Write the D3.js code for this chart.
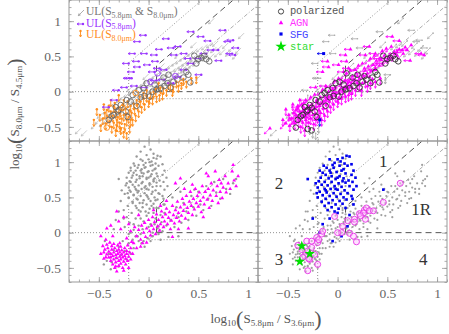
<!DOCTYPE html>
<html>
<head>
<meta charset="utf-8">
<script src="https://cdn.jsdelivr.net/npm/d3@7"></script>
<style>
  body { margin: 0; background: #fff; }
  svg { display: block; }
</style>
</head>
<body>
<svg id="chart" width="449" height="334"></svg>
<script>
// ---- data ----
// upper-limit sources: [x, y, class]  class: a = AGN, s = SFG, o = other
var ulBoth = [
  [-0.68,-0.52,'a'],[-0.62,-0.55,'o'],[-0.52,-0.45,'a'],[-0.48,-0.38,'a'],[-0.46,-0.30,'o'],[-0.44,-0.42,'a'],
  [-0.42,-0.33,'a'],[-0.40,-0.24,'a'],[-0.39,-0.38,'a'],[-0.37,-0.29,'o'],[-0.36,-0.18,'a'],[-0.35,-0.27,'a'],
  [-0.34,-0.34,'a'],[-0.33,-0.24,'a'],[-0.31,-0.13,'o'],[-0.30,-0.30,'a'],[-0.29,-0.20,'a'],[-0.28,-0.25,'a'],
  [-0.27,-0.08,'a'],[-0.26,-0.26,'a'],[-0.25,-0.16,'o'],[-0.23,-0.04,'a'],[-0.22,-0.22,'a'],[-0.21,-0.12,'a'],
  [-0.20,-0.15,'a'],[-0.19,-0.01,'o'],[-0.18,-0.18,'a'],[-0.17,-0.08,'a'],[-0.16,0.08,'o'],[-0.15,0.03,'a'],
  [-0.14,-0.14,'a'],[-0.13,-0.04,'o'],[-0.12,-0.08,'a'],[-0.11,0.07,'a'],[-0.10,-0.10,'a'],[-0.09,0.00,'a'],
  [-0.07,0.11,'o'],[-0.06,-0.06,'a'],[-0.05,0.04,'a'],[-0.04,0.00,'a'],[-0.03,0.15,'a'],[-0.02,-0.02,'a'],
  [-0.01,0.08,'o'],[0.00,0.25,'o'],[0.01,0.19,'a'],[0.02,0.02,'a'],[0.03,0.11,'a'],[0.04,0.06,'a'],
  [0.05,0.22,'o'],[0.06,0.05,'a'],[0.07,0.15,'a'],[0.09,0.26,'a'],[0.10,0.09,'a'],[0.11,0.19,'o'],
  [0.12,0.14,'a'],[0.13,0.30,'a'],[0.14,0.12,'a'],[0.15,0.22,'a'],[0.16,0.40,'o'],[0.17,0.33,'o'],
  [0.18,0.16,'a'],[0.19,0.26,'a'],[0.20,0.22,'a'],[0.21,0.37,'a'],[0.22,0.19,'a'],[0.23,0.29,'o'],
  [0.25,0.40,'a'],[0.26,0.23,'a'],[0.27,0.33,'a'],[0.28,0.30,'a'],[0.29,0.44,'o'],[0.30,0.26,'a'],
  [0.31,0.36,'a'],[0.32,0.55,'o'],[0.33,0.47,'a'],[0.34,0.30,'a'],[0.35,0.40,'o'],[0.36,0.38,'a'],
  [0.37,0.51,'a'],[0.38,0.34,'a'],[0.39,0.44,'a'],[0.41,0.54,'o'],[0.42,0.37,'a'],[0.43,0.47,'a'],
  [0.44,0.45,'a'],[0.45,0.58,'a'],[0.46,0.41,'o'],[0.47,0.51,'a'],[0.48,0.70,'o'],[0.49,0.61,'a'],
  [0.50,0.44,'a'],[0.52,0.54,'o'],[0.52,0.50,'a'],[0.53,0.24,'o'],[0.54,0.64,'a'],[0.55,0.48,'a'],
  [0.57,0.57,'a'],[0.59,0.67,'o'],[0.59,0.54,'o'],[0.60,0.51,'a'],[0.60,0.56,'a'],[0.62,0.60,'a'],
  [0.64,0.70,'o'],[0.66,0.54,'a'],[0.66,1.04,'o'],[0.68,0.63,'a'],[0.70,0.72,'o'],[0.72,0.57,'o'],
  [0.74,0.66,'a'],[0.77,0.60,'o'],[0.80,0.69,'o'],[0.83,0.58,'o'],[0.86,0.65,'o'],[0.90,0.54,'o'],
  [0.93,0.62,'o'],[0.96,0.83,'o']
];
var ul58 = [
  [-0.09,0.71,'o'],[0.20,0.75,'o'],[-0.14,0.54,'s'],[-0.10,0.43,'a'],[-0.02,0.54,'o'],[0.08,0.52,'a'],
  [0.28,0.52,'a'],[0.32,0.64,'a'],[0.38,0.54,'a'],[0.42,0.47,'a'],[-0.19,0.19,'o'],[-0.15,0.28,'a'],
  [-0.09,0.35,'a'],[0.01,0.38,'a'],[0.06,0.28,'a'],[0.11,0.33,'a'],[0.18,0.31,'a'],[0.09,0.43,'a'],
  [-0.30,0.02,'o'],[-0.22,0.06,'a'],[-0.12,0.08,'a'],[-0.02,0.06,'a'],[0.08,0.16,'a'],[0.16,0.17,'a'],
  [0.25,0.12,'a'],[0.32,0.21,'a'],[0.38,0.31,'a'],[0.45,0.40,'a'],[0.52,0.47,'a'],[0.58,0.54,'a'],
  [0.65,0.59,'a'],[0.70,0.59,'a'],[-0.32,-0.12,'a'],[0.82,0.71,'o'],[0.85,0.73,'o'],[0.84,0.54,'a'],
  [0.87,0.52,'a'],[0.77,0.87,'o'],[-0.03,0.80,'o'],[0.45,0.85,'o'],[0.55,0.78,'a'],[0.62,0.72,'a'],
  [0.25,0.62,'o'],[-0.40,-0.22,'a'],[-0.20,0.40,'o'],[0.13,0.60,'a'],[0.90,0.62,'o'],[0.73,0.44,'a'],
  [-0.17,0.19,'o'],[0.53,0.24,'o']
];
var ul80 = [
  [-0.49,-0.33,'a'],[-0.42,-0.26,'a'],[-0.35,-0.21,'a'],[-0.32,-0.40,'a'],[-0.29,-0.31,'a'],[-0.25,-0.12,'o'],
  [-0.22,-0.40,'a'],[-0.19,-0.26,'a'],[-0.15,-0.17,'a'],[-0.12,-0.12,'a'],[-0.09,-0.07,'a'],[-0.05,-0.02,'a'],
  [-0.02,0.02,'o'],[0.01,-0.09,'a'],[0.05,0.00,'a'],[0.11,-0.05,'a'],[0.15,0.05,'a'],[0.18,0.02,'a'],
  [0.22,0.09,'a'],[0.25,0.07,'o'],[0.28,0.14,'a'],[0.33,0.12,'a'],[0.38,0.14,'a'],[0.43,0.19,'a'],
  [-0.25,-0.57,'o'],[-0.22,-0.59,'o'],[-0.46,-0.38,'a'],[-0.44,-0.30,'a'],[-0.43,-0.45,'a'],[-0.41,-0.36,'a'],
  [-0.40,-0.20,'a'],[-0.39,-0.42,'a'],[-0.38,-0.28,'a'],[-0.37,-0.50,'a'],[-0.36,-0.34,'a'],[-0.35,-0.44,'a'],
  [-0.34,-0.16,'a'],[-0.33,-0.29,'a'],[-0.32,-0.48,'o'],[-0.31,-0.36,'a'],[-0.30,-0.22,'a'],[-0.29,-0.44,'a'],
  [-0.28,-0.27,'a'],[-0.27,-0.38,'a'],[-0.26,-0.18,'a'],[-0.25,-0.33,'a'],[-0.24,-0.46,'a'],[-0.23,-0.24,'a'],
  [-0.22,-0.31,'a'],[-0.21,-0.14,'a'],[-0.20,-0.36,'a'],[-0.19,-0.50,'o'],[-0.18,-0.20,'a'],[-0.17,-0.30,'a'],
  [-0.16,-0.40,'a'],[-0.14,-0.24,'a'],[-0.13,-0.34,'a'],[-0.11,-0.18,'a'],[-0.10,-0.28,'a'],[-0.08,-0.14,'a'],
  [-0.07,-0.22,'a'],[-0.05,-0.10,'a'],[-0.04,-0.18,'a'],[-0.02,-0.06,'a'],[0.00,-0.14,'a'],[0.02,-0.02,'a'],
  [0.04,-0.10,'a'],[0.07,0.04,'a'],[0.08,-0.07,'a'],[0.12,0.06,'a'],[0.14,-0.03,'a'],[0.20,0.12,'a'],
  [0.24,0.02,'a'],[0.30,0.08,'a'],[0.35,0.18,'a'],[-0.55,-0.40,'a'],[-0.52,-0.25,'a'],[-0.48,-0.48,'a'],
  [-0.45,-0.18,'a'],[-0.33,-0.55,'a'],[-0.28,-0.52,'o'],[-0.18,-0.40,'s'],[-0.38,-0.12,'a'],[-0.30,-0.05,'o'],
  [0.48,0.20,'o'],[0.10,0.12,'a']
];
// polarized upper-limit sources: [x, y, limit]  b = both, p = 5.8um, o = 8.0um
var polUL = [
  [-0.42,-0.51,'o'],[-0.30,-0.53,'o'],[-0.26,-0.55,'o'],[-0.37,-0.35,'b'],[-0.35,-0.33,'b'],[-0.30,-0.26,'b'],
  [-0.28,-0.19,'b'],[-0.26,-0.23,'o'],[-0.23,-0.28,'b'],[-0.21,-0.36,'b'],[-0.33,-0.22,'b'],[-0.31,-0.28,'b'],
  [-0.18,-0.14,'b'],[-0.12,-0.20,'b'],[-0.16,-0.05,'b'],[-0.13,-0.02,'o'],[-0.08,-0.08,'b'],[-0.04,-0.06,'b'],
  [0.01,-0.07,'b'],[0.04,0.00,'b'],[0.08,0.03,'b'],[0.02,0.14,'p'],[0.09,0.26,'p'],[0.06,0.10,'b'],
  [0.12,0.05,'b'],[0.16,0.08,'b'],[0.19,0.12,'b'],[0.22,0.06,'b'],[0.25,0.14,'b'],[0.29,0.17,'b'],
  [0.27,0.22,'p'],[0.33,0.12,'o'],[0.38,0.28,'b'],[0.40,0.24,'b'],[0.42,0.13,'b'],[0.35,0.20,'b'],
  [0.46,0.51,'b'],[0.50,0.46,'b'],[0.53,0.48,'b'],[0.56,0.51,'b'],[0.58,0.46,'b'],[0.61,0.43,'b'],
  [0.48,0.40,'b'],[-0.05,0.05,'b'],[-0.02,0.12,'b'],[-0.10,0.02,'b'],[0.15,0.20,'b'],[0.20,0.24,'b'],
  [-0.22,-0.12,'b'],[-0.40,-0.40,'b']
];
// detected sources
var agnDet = [
  [-0.46,-0.19],[-0.44,-0.24],[-0.45,-0.28],[-0.42,-0.17],[-0.42,-0.31],[-0.41,-0.22],[-0.40,-0.35],[-0.40,-0.27],
  [-0.39,-0.14],[-0.38,-0.30],[-0.38,-0.40],[-0.37,-0.24],[-0.37,-0.19],[-0.36,-0.33],[-0.36,-0.45],[-0.35,-0.28],
  [-0.35,-0.38],[-0.34,-0.22],[-0.34,-0.50],[-0.33,-0.32],[-0.33,-0.42],[-0.32,-0.26],[-0.32,-0.36],[-0.32,-0.55],
  [-0.31,-0.18],[-0.31,-0.30],[-0.30,-0.40],[-0.30,-0.47],[-0.30,-0.24],[-0.29,-0.34],[-0.29,-0.28],[-0.28,-0.38],
  [-0.28,-0.20],[-0.28,-0.44],[-0.27,-0.31],[-0.27,-0.25],[-0.26,-0.35],[-0.26,-0.50],[-0.25,-0.28],[-0.25,-0.41],
  [-0.24,-0.22],[-0.24,-0.33],[-0.23,-0.37],[-0.23,-0.45],[-0.22,-0.26],[-0.22,-0.30],[-0.21,-0.40],[-0.21,-0.18],
  [-0.20,-0.34],[-0.20,-0.50],[-0.19,-0.28],[-0.18,-0.22],[-0.18,-0.38],[-0.17,-0.13],[-0.16,-0.30],[-0.33,-0.48],
  [-0.38,-0.35],[-0.43,-0.35],[-0.48,-0.30],[-0.25,-0.54],[-0.35,-0.16],[-0.29,-0.15],[-0.45,-0.37],
  [-0.12,-0.05],[-0.10,0.04],[-0.08,-0.10],[-0.07,0.10],[-0.05,0.00],[-0.04,0.14],[-0.03,-0.06],[-0.02,0.06],
  [0.00,0.18],[0.01,0.02],[0.02,-0.04],[0.03,0.10],[0.04,0.22],[0.05,0.05],[0.06,0.15],[0.07,-0.02],
  [0.08,0.26],[0.09,0.09],[0.10,0.18],[0.11,0.03],[0.12,0.12],[0.13,0.30],[0.14,0.22],[0.15,0.08],
  [0.16,0.16],[0.17,0.26],[0.18,0.34],[0.19,0.12],[0.20,0.21],[0.21,0.29],[0.22,0.05],[0.23,0.17],
  [0.24,0.38],[0.25,0.25],[0.26,0.13],[0.27,0.32],[0.28,0.21],[0.29,0.44],[0.30,0.28],[0.31,0.16],
  [0.32,0.36],[0.32,0.77],[0.33,0.24],[0.34,0.48],[0.35,0.31],[0.36,0.40],[0.37,0.20],[0.38,0.52],
  [0.39,0.35],[0.40,0.28],[0.41,0.44],[0.42,0.58],[0.43,0.38],[0.44,0.25],[0.45,0.48],[0.46,0.33],
  [0.47,0.62],[0.48,0.42],[0.49,0.52],[0.50,0.37],[0.51,0.57],[0.52,0.45],[0.53,0.29],[0.54,0.66],
  [0.55,0.50],[0.56,0.40],[0.57,0.58],[0.58,0.84],[0.59,0.47],[0.60,0.62],[0.61,0.35],[0.62,0.53],
  [0.63,0.70],[0.64,0.45],[0.65,0.60],[0.67,0.87],[0.68,0.52],[0.69,0.66],[0.70,0.42],[0.71,0.75],
  [0.72,0.58],[0.73,0.70],[0.74,0.49],[0.75,0.64],[0.77,0.80],[0.78,0.57],[0.80,0.70],[0.82,0.62],
  [0.84,0.87],[0.85,0.96],[0.86,0.74],[0.88,0.66],[0.90,0.80],[0.27,0.70],[0.36,0.62],[0.44,0.68],
  [0.60,0.80],[0.18,0.45],[0.12,0.38],[0.05,0.32],[0.40,0.06],[0.30,0.05],[0.55,0.22],[0.24,-0.06],
  [-0.32,0.30],[-0.30,0.16],[-0.38,0.10],[-0.42,0.06],[-0.43,-0.10],[-0.36,-0.05],[-0.28,0.05],[-0.22,-0.08],
  [-0.15,-0.15],[-0.12,-0.22],[-0.08,-0.20],[-0.18,0.02],[-0.25,0.22],[-0.14,0.08],[-0.06,-0.15],[-0.02,-0.14],
  [-0.20,0.12],[-0.48,-0.05],[-0.10,0.25]
];
var sfgDet = [
  [0.09,1.09],[0.05,1.06],[0.00,1.04],[-0.08,1.04],[0.12,1.08],[-0.03,0.99],[0.07,0.98],[0.02,0.95],
  [-0.11,0.92],[-0.04,0.92],[0.10,0.95],[-0.08,0.88],[0.04,0.88],[-0.15,0.85],[-0.01,0.86],[0.08,0.84],
  [-0.12,0.82],[-0.06,0.80],[0.02,0.80],[0.14,0.82],[-0.17,0.78],[-0.09,0.77],[-0.02,0.76],[0.06,0.77],
  [0.11,0.74],[-0.19,0.73],[-0.13,0.72],[-0.06,0.72],[0.01,0.70],[0.08,0.71],[0.15,0.72],[-0.16,0.68],
  [-0.10,0.67],[-0.03,0.66],[0.04,0.65],[0.12,0.66],[-0.20,0.64],[-0.13,0.62],[-0.07,0.62],[0.00,0.61],
  [0.07,0.60],[0.16,0.61],[-0.18,0.58],[-0.11,0.57],[-0.04,0.56],[0.03,0.55],[0.10,0.56],[-0.15,0.53],
  [-0.08,0.52],[-0.01,0.51],[0.06,0.50],[0.14,0.52],[-0.20,0.50],[-0.12,0.48],[-0.05,0.46],[0.02,0.45],
  [0.09,0.47],[-0.16,0.44],[-0.09,0.42],[-0.02,0.40],[0.05,0.41],[0.16,0.40],[-0.13,0.38],[-0.06,0.36],
  [0.01,0.34],[-0.10,0.32],[0.08,0.35],[-0.03,0.30],[-0.21,0.56],[-0.22,0.70],[0.19,0.66],[0.18,0.78],
  [0.14,0.97],[0.16,0.88],[-0.14,0.95],[-0.18,0.88],[0.00,0.28],[-0.15,0.12],[-0.18,0.00],[-0.05,-0.12],
  [0.04,-0.05],[0.10,0.09],[0.46,0.61],[-0.30,0.76],[0.15,0.48],[-0.25,0.20],[-0.08,0.20],[0.12,0.25],
  [-0.02,0.62],[-0.07,0.85],[0.05,0.73],[-0.12,0.60],[0.00,0.78],[0.06,0.90],[-0.05,0.96],[0.03,1.01]
];
var othDet = [
  [-0.04,1.22],[0.02,1.18],[-0.08,1.15],[0.05,1.12],[-0.02,1.10],[-0.12,1.08],[0.08,1.05],[-0.06,1.02],
  [0.01,1.00],[-0.15,0.98],[-0.10,0.96],[0.04,0.96],[-0.03,0.93],[-0.18,0.92],[-0.07,0.90],[0.07,0.91],
  [-0.13,0.88],[0.00,0.87],[-0.20,0.85],[-0.05,0.84],[0.03,0.83],[-0.16,0.81],[-0.09,0.80],[0.09,0.80],
  [-0.22,0.78],[-0.02,0.78],[-0.12,0.75],[0.05,0.75],[-0.18,0.72],[-0.07,0.70],[0.01,0.68],[-0.23,0.67],
  [-0.14,0.65],[0.08,0.66],[-0.04,0.64],[-0.19,0.60],[-0.10,0.59],[0.04,0.58],[-0.24,0.55],[-0.15,0.54],
  [-0.02,0.53],[0.11,0.55],[-0.20,0.49],[-0.11,0.47],[0.00,0.48],[0.07,0.46],[-0.16,0.42],[-0.06,0.42],
  [0.03,0.38],[-0.21,0.38],[-0.12,0.35],[0.10,0.35],[-0.25,0.32],[-0.08,0.30],[-0.17,0.28],[0.05,0.28],
  [-0.02,0.24],[-0.22,0.22],[-0.13,0.20],[0.07,0.20],[-0.05,0.16],[-0.19,0.14],[-0.10,0.10],[0.02,0.12],
  [-0.24,0.08],[-0.15,0.04],[-0.06,0.05],[0.04,0.00],[-0.20,-0.02],[-0.11,-0.05],[-0.01,-0.08],[-0.16,-0.10],
  [-0.07,-0.15],[0.09,0.06],[0.13,0.15],[-0.28,0.45],[-0.30,0.30],[-0.33,0.18],[-0.35,0.05],[-0.27,0.60],
  [-0.42,-0.40],[-0.40,-0.30],[-0.37,-0.42],[-0.35,-0.25],[-0.33,-0.36],[-0.30,-0.20],[-0.28,-0.32],[-0.26,-0.12],
  [-0.24,-0.26],[-0.22,-0.38],[-0.20,-0.15],[-0.18,-0.30],[-0.15,-0.22],[-0.13,-0.05],[-0.10,-0.12],[-0.08,-0.02],
  [-0.04,-0.20],[0.00,0.08],[0.02,-0.12],[0.06,0.12],[0.10,-0.02],[0.14,0.02],[0.16,0.28],[0.18,0.10],
  [0.20,-0.06],[0.22,0.18],[0.26,0.08],[0.28,0.36],[0.30,0.22],[0.33,0.14],[0.35,0.42],[0.38,0.30],
  [0.40,0.18],[0.43,0.52],[0.45,0.36],[0.48,0.24],[0.50,0.58],[0.52,0.40],[0.55,0.32],[0.58,0.66],
  [0.60,0.48],[0.63,0.38],[0.66,0.72],[0.68,0.57],[0.72,0.48],[0.75,0.76],[0.78,0.62],[0.82,0.55],
  [0.85,0.70],[0.88,0.76],[0.24,0.50],[0.15,0.40],[0.32,0.58],[0.05,0.35],[0.12,-0.10],[0.30,-0.05],
  [-0.45,-0.45],[-0.38,-0.52],[-0.30,-0.48],[-0.44,-0.12]
];
var polDet = [
  [-0.40,-0.18],[-0.36,-0.24],[-0.33,-0.33],[-0.30,-0.26],[-0.26,-0.21],[-0.31,-0.12],[-0.26,-0.12],[-0.21,-0.07],
  [-0.20,-0.14],[-0.23,-0.31],[-0.30,-0.54],[-0.20,-0.45],[-0.35,-0.35],[-0.28,-0.38],[-0.16,-0.02],[-0.15,0.02],
  [0.04,0.00],[0.05,0.09],[0.10,0.17],[0.17,0.19],[0.00,0.00],[-0.03,0.23],[0.12,-0.01],[0.17,0.15],
  [0.19,-0.13],[0.16,-0.05],[0.22,0.27],[0.27,0.32],[0.29,0.35],[0.32,0.31],[0.26,0.28],[0.23,0.24],
  [0.36,0.31],[0.28,0.19],[0.46,0.43],[0.63,0.70],[-0.29,-0.37],[-0.19,-0.10]
];
var stars = [[-0.36,-0.19],[-0.38,-0.41],[-0.28,-0.30]];
// region labels of the lower right panel
var regionNames = ['1', '2', '3', '4', '1R'];
var regionPos = [[0.46,1.02],[-0.59,0.70],[-0.59,-0.37],[0.86,-0.37],[0.84,0.34]];
var xTicks = [-0.5, 0, 0.5, 1];
var yTicks = [-0.5, 0, 0.5, 1];

// ---- layout ----
var W = 189, H = 141;
var x = d3.scaleLinear().domain([-0.8, 1.1]).range([0, W]);
var y = d3.scaleLinear().domain([-0.7, 1.3]).range([H, 0]);
var svg = d3.select('#chart');
var SERIF = '"Liberation Serif", "DejaVu Serif", serif';
var MONO = '"Liberation Mono", "DejaVu Sans Mono", monospace';

var MAG = '#ff00ff', PUR = '#9933ff', ORA = '#ff8c1a', BLU = '#0000ee', GRN = '#00e000';

function makePanel(id, tx, ty) {
  var g = svg.append('g').attr('transform', 'translate(' + tx + ',' + ty + ')');
  svg.append('clipPath').attr('id', 'clip-' + id)
    .append('rect').attr('width', W).attr('height', H);
  var inner = g.append('g').attr('clip-path', 'url(#clip-' + id + ')');
  return { g: g, inner: inner };
}

// reference lines, same in every panel
function guideLines(g) {
  var lines = [
    { p: [[-0.8, 0], [0.08, 0]], dash: '1,2', c: '#777', w: 0.8 },
    { p: [[0.08, 0], [1.1, 0]], dash: '6,4', c: '#555', w: 1 },
    { p: [[0.08, 0], [0.08, 0.367], [(1.3 - 0.27) / 1.21, 1.3]], dash: '6,4', c: '#555', w: 1 },
    { p: [[-0.2, -0.7], [-0.2, 0.408], [(1.3 - 0.65) / 1.21, 1.3]], dash: '1,2', c: '#777', w: 0.8 },
    { p: [[0, -0.1], [1.1, -0.1]], dash: '1,2', c: '#777', w: 0.8 },
    { p: [[0, -0.1], [1.1, 1.231]], dash: '4,2,1,2', c: '#888', w: 0.7 }
  ];
  var line = d3.line().x(function (d) { return x(d[0]); }).y(function (d) { return y(d[1]); });
  g.selectAll('path.guide').data(lines).join('path')
    .attr('class', 'guide')
    .attr('d', function (d) { return line(d.p); })
    .attr('fill', 'none')
    .attr('stroke', function (d) { return d.c; })
    .attr('stroke-width', function (d) { return d.w; })
    .attr('stroke-dasharray', function (d) { return d.dash; });
}

function frame(g, showX, showY) {
  var minorX = d3.range(-8, 12).map(function (i) { return i / 10; });
  var minorY = d3.range(-7, 14).map(function (i) { return i / 10; });
  var defs = [
    [d3.axisBottom(x), 'translate(0,' + H + ')', minorX, xTicks],
    [d3.axisTop(x), null, minorX, xTicks],
    [d3.axisLeft(y), null, minorY, yTicks],
    [d3.axisRight(y), 'translate(' + W + ',0)', minorY, yTicks]
  ];
  defs.forEach(function (a) {
    [[a[2], -2.5], [a[3], -5]].forEach(function (t) {
      var ax = g.append('g').attr('transform', a[1])
        .call(a[0].tickValues(t[0]).tickSize(t[1]).tickFormat(''));
      ax.select('.domain').remove();
      ax.selectAll('line').attr('stroke', '#999').attr('stroke-width', 0.8);
    });
  });
  g.append('rect').attr('width', W).attr('height', H)
    .attr('fill', 'none').attr('stroke', '#999').attr('stroke-width', 1);
  var fmt = d3.format('');
  if (showY) {
    var ay = g.append('g').call(d3.axisLeft(y).tickValues(yTicks).tickSize(0).tickPadding(8).tickFormat(fmt));
    ay.select('.domain').remove();
    ay.selectAll('text').attr('font-family', SERIF).attr('font-size', 13.5).attr('fill', '#666');
  }
  if (showX) {
    var axx = g.append('g').attr('transform', 'translate(0,' + H + ')')
      .call(d3.axisBottom(x).tickValues(xTicks).tickSize(0).tickPadding(6).tickFormat(fmt));
    axx.select('.domain').remove();
    axx.selectAll('text').attr('font-family', SERIF).attr('font-size', 13.5).attr('fill', '#666');
  }
}

// upper limit arrows
var DIRS = { D: [0, 1], L: [-1, 0], DL: [-0.7071, 0.7071] };
function arrowPath(px, py, dir, len) {
  var d = DIRS[dir], ex = px + d[0] * len, ey = py + d[1] * len, h = 2.4;
  var a = Math.atan2(d[1], d[0]);
  var h1x = ex - h * Math.cos(a - 0.5), h1y = ey - h * Math.sin(a - 0.5);
  var h2x = ex - h * Math.cos(a + 0.5), h2y = ey - h * Math.sin(a + 0.5);
  return 'M' + px + ',' + py + 'L' + ex + ',' + ey + 'M' + h1x + ',' + h1y + 'L' + ex + ',' + ey + 'L' + h2x + ',' + h2y;
}
function arrows(g, data, dir, len, color, sw) {
  g.append('g').selectAll('path').data(data).join('path')
    .attr('d', function (d) { return arrowPath(x(d[0]), y(d[1]), dir, len); })
    .attr('fill', 'none').attr('stroke', color).attr('stroke-width', sw);
}
function dots(g, data, r, color) {
  g.append('g').selectAll('circle').data(data).join('circle')
    .attr('cx', function (d) { return x(d[0]); }).attr('cy', function (d) { return y(d[1]); })
    .attr('r', r).attr('fill', color);
}
function symbols(g, data, type, size, color) {
  var sym = d3.symbol().type(type).size(size);
  g.append('g').selectAll('path').data(data).join('path')
    .attr('transform', function (d) { return 'translate(' + x(d[0]) + ',' + y(d[1]) + ')'; })
    .attr('d', sym).attr('fill', color);
}
function rings(g, data, r, stroke, fill, sw) {
  g.append('g').selectAll('circle').data(data).join('circle')
    .attr('cx', function (d) { return x(d[0]); }).attr('cy', function (d) { return y(d[1]); })
    .attr('r', r).attr('fill', fill).attr('stroke', stroke).attr('stroke-width', sw);
}
function only(data, key, idx) {
  return data.filter(function (d) { return d[idx] === key; });
}

// rich text with sub/superscript offsets
function rich(text, parts) {
  var cur = 0;
  parts.forEach(function (p) {
    var off = p.off || 0;
    var t = text.append('tspan').text(p.t).attr('dy', off - cur);
    if (p.fs) t.attr('font-size', p.fs);
    cur = off;
  });
}

// ---- top left: upper limits by kind ----
var tl = makePanel('tl', 69, 0);
guideLines(tl.inner);
arrows(tl.inner, ulBoth, 'DL', 8, '#b4b4b4', 0.7);
arrows(tl.inner, ul80, 'D', 6.5, ORA, 0.9);
dots(tl.inner, ul80, 1.2, ORA);
arrows(tl.inner, ul58, 'L', 6.5, PUR, 0.9);
dots(tl.inner, ul58, 1.2, PUR);
rings(tl.inner, only(polUL, 'b', 2), 2.8, '#666', 'none', 0.9);
rings(tl.inner, only(polUL, 'p', 2), 2.8, PUR, 'none', 0.9);
rings(tl.inner, only(polUL, 'o', 2), 2.8, ORA, 'none', 0.9);
frame(tl.g, false, true);

// ---- top right: upper limits by class ----
var tr = makePanel('tr', 258, 0);
guideLines(tr.inner);
[['o', '#aaaaaa'], ['a', MAG], ['s', BLU]].forEach(function (c) {
  arrows(tr.inner, only(ulBoth, c[0], 2), 'DL', 8, c[1], 0.7);
  arrows(tr.inner, only(ul58, c[0], 2), 'L', 6.5, c[1], 0.8);
  arrows(tr.inner, only(ul80, c[0], 2), 'D', 6.5, c[1], 0.8);
  var all = only(ulBoth, c[0], 2).concat(only(ul58, c[0], 2), only(ul80, c[0], 2));
  if (c[0] === 'a') symbols(tr.inner, all, d3.symbolTriangle, 7, MAG);
  else if (c[0] === 's') symbols(tr.inner, all, d3.symbolSquare, 9, BLU);
  else dots(tr.inner, all, 0.8, '#aaaaaa');
});
rings(tr.inner, polUL, 2.8, '#333', 'none', 0.9);
frame(tr.g, false, false);

// ---- bottom left: detections, AGN highlighted ----
var bl = makePanel('bl', 69, 141);
guideLines(bl.inner);
dots(bl.inner, sfgDet.concat(othDet), 1.2, '#999');
symbols(bl.inner, agnDet, d3.symbolTriangle, 6.5, MAG);
frame(bl.g, true, true);

// ---- bottom right: detections, SFG / polarized / stars ----
var br = makePanel('br', 258, 141);
guideLines(br.inner);
dots(br.inner, agnDet.concat(othDet), 1.1, '#a0a0a0');
symbols(br.inner, sfgDet, d3.symbolSquare, 7, BLU);
rings(br.inner, polDet, 3, '#e633e6', 'rgba(255,190,255,0.45)', 0.9);
symbols(br.inner, stars, d3.symbolStar, 34, GRN);
br.g.append('g').selectAll('text').data(regionNames).join('text')
  .attr('x', function (d, i) { return x(regionPos[i][0]); })
  .attr('y', function (d, i) { return y(regionPos[i][1]); })
  .attr('dy', '0.35em')
  .attr('text-anchor', 'middle')
  .attr('font-family', SERIF).attr('font-size', 17).attr('fill', '#333')
  .text(function (d) { return d; });
frame(br.g, true, false);

// ---- legends ----
var lg1 = svg.append('g').attr('font-family', SERIF).attr('font-size', 11.5);
lg1.append('path').attr('d', arrowPath(84, 10, 'DL', 8)).attr('fill', 'none').attr('stroke', '#999').attr('stroke-width', 0.8);
lg1.append('path').attr('d', arrowPath(83, 24, 'L', 6)).attr('fill', 'none').attr('stroke', PUR).attr('stroke-width', 0.9);
lg1.append('circle').attr('cx', 83).attr('cy', 24).attr('r', 1.2).attr('fill', PUR);
lg1.append('path').attr('d', arrowPath(80.5, 31, 'D', 6)).attr('fill', 'none').attr('stroke', ORA).attr('stroke-width', 0.9);
lg1.append('circle').attr('cx', 80.5).attr('cy', 31).attr('r', 1.2).attr('fill', ORA);
rich(lg1.append('text').attr('x', 86).attr('y', 15).attr('fill', '#777'), [
  { t: 'UL(S' }, { t: '5.8μm', fs: 8, off: 2.5 }, { t: ' & S' }, { t: '8.0μm', fs: 8, off: 2.5 }, { t: ')' }]);
rich(lg1.append('text').attr('x', 86).attr('y', 26.5).attr('fill', PUR), [
  { t: 'UL(S' }, { t: '5.8μm', fs: 8, off: 2.5 }, { t: ')' }]);
rich(lg1.append('text').attr('x', 86).attr('y', 38).attr('fill', ORA), [
  { t: 'UL(S' }, { t: '8.0μm', fs: 8, off: 2.5 }, { t: ')' }]);

var lg2 = svg.append('g').attr('font-family', MONO).attr('font-size', 10.5).attr('letter-spacing', -0.3);
var legNames = ['polarized', 'AGN', 'SFG', 'star'];
var legColors = ['#555', '#ff33ff', '#4444ff', '#33dd33'];
lg2.selectAll('text').data(legNames).join('text')
  .attr('x', 290).attr('y', function (d, i) { return 14 + i * 12; })
  .attr('fill', function (d, i) { return legColors[i]; })
  .text(function (d) { return d; });
lg2.append('circle').attr('cx', 281).attr('cy', 11.5).attr('r', 2.6).attr('fill', 'none').attr('stroke', '#333').attr('stroke-width', 0.9);
lg2.append('path').attr('transform', 'translate(281,23)').attr('d', d3.symbol().type(d3.symbolTriangle).size(9)()).attr('fill', MAG);
lg2.append('path').attr('transform', 'translate(281,34)').attr('d', d3.symbol().type(d3.symbolSquare).size(10)()).attr('fill', BLU);
lg2.append('path').attr('transform', 'translate(281,46.5)').attr('d', d3.symbol().type(d3.symbolStar).size(40)()).attr('fill', GRN);

// ---- axis titles ----
var xt = svg.append('text').attr('x', 266).attr('y', 323).attr('text-anchor', 'middle')
  .attr('font-family', SERIF).attr('font-size', 13).attr('fill', '#555');
rich(xt, [{ t: 'log' }, { t: '10', fs: 9, off: 3 }, { t: '(', fs: 22, off: 3 },
  { t: 'S' }, { t: '5.8μm', fs: 9, off: 3 }, { t: ' / S' }, { t: '3.6μm', fs: 9, off: 3 }, { t: ')', fs: 22, off: 3 }]);
var yt = svg.append('text').attr('transform', 'translate(19,114) rotate(-90)').attr('text-anchor', 'middle')
  .attr('font-family', SERIF).attr('font-size', 13).attr('fill', '#555');
rich(yt, [{ t: 'log' }, { t: '10', fs: 9, off: 3 }, { t: '(', fs: 22, off: 3 },
  { t: 'S' }, { t: '8.0μm', fs: 9, off: 3 }, { t: ' / S' }, { t: '4.5μm', fs: 9, off: 3 }, { t: ')', fs: 22, off: 3 }]);
</script>
</body>
</html>
